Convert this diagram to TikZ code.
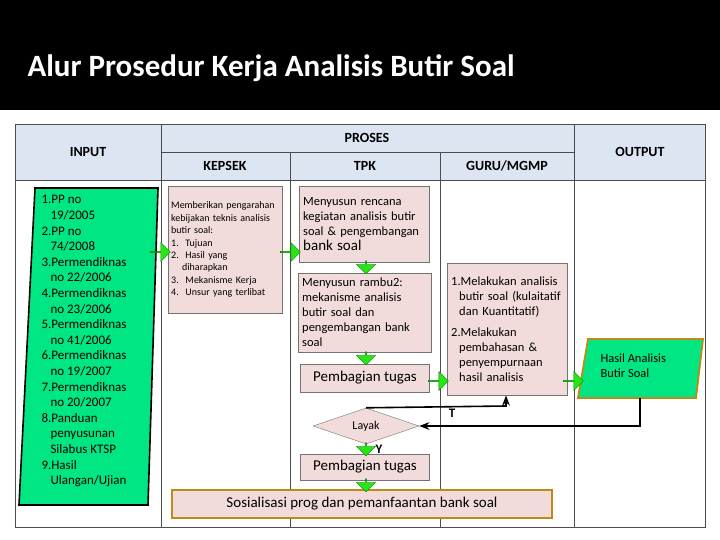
\documentclass[tikz,border=0pt]{standalone}
\usepackage{fontspec}
\setmainfont{Carlito}
\usetikzlibrary{positioning, arrows.meta, shapes.geometric, shapes.arrows, calc}
\definecolor{pinkbox}{RGB}{242,220,219}
\definecolor{headblue}{RGB}{220,230,242}
\definecolor{greenio}{RGB}{0,230,130}
\definecolor{arrowgreen}{RGB}{40,230,20}
\definecolor{goldline}{RGB}{190,140,20}
\hyphenpenalty=10000
\begin{document}
\begin{tikzpicture}[
        x=1pt, y=-1pt,
        >=Stealth,
        task/.style={draw=black!55, fill=pinkbox, align=left, inner sep=4pt, font=\fontsize{12.5}{15}\selectfont},
        flow/.style={single arrow, draw=green!50!black, fill=arrowgreen, minimum height=20pt, minimum width=19pt, single arrow head extend=3pt, inner sep=0pt},
        head/.style={font=\bfseries\fontsize{14}{16}\selectfont},
        back/.style={->, line width=1.6pt},
    ]
    \useasboundingbox (0,0) rectangle (720,540);

    % title bar
    \fill[black] (0,0) rectangle (720,110);
    \node[anchor=west, text=white, font=\bfseries\fontsize{31}{36}\selectfont] (title) at (24,68) {Alur Prosedur Kerja Analisis Butir Soal};

    % table
    \fill[headblue] (15,124) rectangle (705,180);
    \draw[black!70] (15,124) rectangle (705,527);
    \draw[black!70] (15,180) -- (705,180);
    \draw[black!70] (161,152) -- (574,152);
    \foreach \x in {161,574}
        \draw[black!70] (\x,124) -- (\x,527);
    \foreach \x in {290,440}
        \draw[black!70] (\x,152) -- (\x,527);
    \node[head] (hin) at (88,152) {INPUT};
    \node[head] (hpro) at (367,138) {PROSES};
    \node[head] (hkep) at (225,166) {KEPSEK};
    \node[head] (htpk) at (365,166) {TPK};
    \node[head] (hguru) at (507,166) {GURU/MGMP};
    \node[head] (hout) at (640,152) {OUTPUT};

    % input
    \filldraw[fill=greenio, line width=1.6pt] (35,188) -- (158,188) -- (148,505) -- (19,505) -- cycle;
    \node[anchor=north west, align=left, font=\fontsize{13}{15.6}\selectfont] (input) at (38,192)
        {1.PP no\\\hspace*{9pt}19/2005\\2.PP no\\\hspace*{9pt}74/2008\\3.Permendiknas\\\hspace*{9pt}no 22/2006\\4.Permendiknas\\\hspace*{9pt}no 23/2006\\5.Permendiknas\\\hspace*{9pt}no 41/2006\\6.Permendiknas\\\hspace*{9pt}no 19/2007\\7.Permendiknas\\\hspace*{9pt}no 20/2007\\8.Panduan\\\hspace*{9pt}penyusunan\\\hspace*{9pt}Silabus KTSP\\9.Hasil\\\hspace*{9pt}Ulangan/Ujian};

    % kepsek
    \node[task, anchor=north west, text width=108pt, minimum height=127pt, font=\fontsize{10}{12.4}\selectfont, inner sep=3pt] (arahan) at (168,186)
        {Memberikan pengarahan kebijakan teknis analisis butir soal:\\
         1.\ \ Tujuan\\2.\ \ Hasil yang\\\hspace*{11pt}diharapkan\\3.\ \ Mekanisme Kerja\\4.\ \ Unsur yang terlibat};

    % TPK
    \node[task, anchor=north west, text width=122pt, minimum height=76pt] (rencana) at (299,186)
        {Menyusun rencana kegiatan analisis butir soal \& pengembangan {\fontsize{15}{17}\selectfont bank soal}};
    \node[task, anchor=north west, text width=125pt, minimum height=79pt] (rambu) at (298,273)
        {Menyusun rambu2: mekanisme analisis butir soal dan pengembangan bank soal};
    \node[task, align=center, minimum width=129pt, minimum height=28pt, font=\fontsize{15}{17}\selectfont] (bagi1) at (365,378) {Pembagian tugas};
    \node[diamond, aspect=2.9, draw=black!55, fill=pinkbox, minimum width=106pt, minimum height=36pt, inner sep=0pt, font=\fontsize{12}{14}\selectfont] (layak) at (366,426) {Layak};
    \node[task, align=center, minimum width=129pt, minimum height=26pt, font=\fontsize{15}{17}\selectfont] (bagi2) at (365,467) {Pembagian tugas};
    \node[task, draw=goldline, line width=1.8pt, align=center, minimum width=380pt, minimum height=28pt, font=\fontsize{15}{17}\selectfont] (sosial) at (362,504) {Sosialisasi prog dan pemanfaantan bank soal};

    % guru
    \node[task, anchor=north west, text width=112pt, minimum height=132pt] (analisis) at (447,263)
        {1.Melakukan analisis\\\hspace*{8pt}butir soal (kulaitatif\\\hspace*{8pt}dan Kuantitatif)\\[6pt]2.Melakukan\\\hspace*{8pt}pembahasan \&\\\hspace*{8pt}penyempurnaan\\\hspace*{8pt}hasil analisis};

    % output
    \filldraw[fill=greenio, draw=goldline, line width=1.8pt] (588,339) -- (703,339) -- (696,398) -- (578,398) -- cycle;
    \node[anchor=north west, align=left, font=\fontsize{12.5}{15.5}\selectfont] (hasil) at (597,350)
        {Hasil Analisis\\Butir Soal};
    \coordinate (hasilbot) at (640,398);

    % green block arrows
    \node[flow] (f1) at (160,252) {};
    \node[flow] (f2) at (290,252) {};
    \node[flow, rotate=-90, minimum height=13pt] (f3) at (366,267) {};
    \node[flow, rotate=-90, minimum height=13pt] (f4) at (366,358) {};
    \node[flow] (f5) at (438,381) {};
    \node[flow] (f6) at (573,381) {};
    \node[flow, rotate=-90, minimum height=13pt] (f7) at (366,449) {};
    \node[flow, rotate=-90, minimum height=13pt] (f8) at (366,485) {};

    % feedback lines
    \coordinate (up) at (506,406);
    \coordinate (dn) at (640,426);
    \draw[back] (layak.north) -- (up) -- (up |- analisis.south);
    \draw[back] (hasilbot) -- (dn) -- (layak.east);
    \node[font=\bfseries\fontsize{13}{15}\selectfont] (t) at (452,413) {T};
    \node[font=\bfseries\fontsize{13}{15}\selectfont] (y) at (379,449) {Y};
\end{tikzpicture}
\end{document}
